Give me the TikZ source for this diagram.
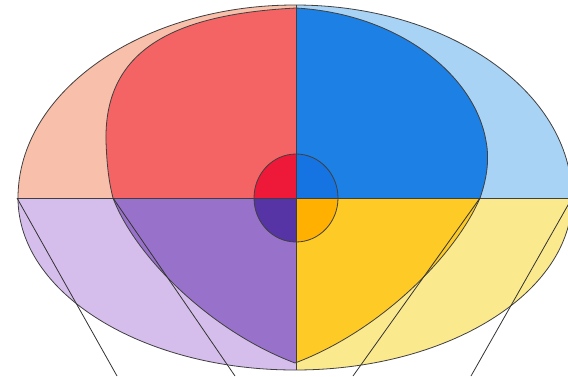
\documentclass[tikz,border=0pt]{standalone}
\usepackage{xcolor}
\usepackage{tikz}
\definecolor{outerTL}{HTML}{F8BFAA}
\definecolor{innerTL}{HTML}{F46464}
\definecolor{coreTL}{HTML}{EE1838}
\definecolor{outerTR}{HTML}{A8D3F5}
\definecolor{innerTR}{HTML}{1C80E4}
\definecolor{coreTR}{HTML}{1673E2}
\definecolor{outerBL}{HTML}{D6BEEC}
\definecolor{innerBL}{HTML}{9872CA}
\definecolor{coreBL}{HTML}{5634A6}
\definecolor{outerBR}{HTML}{FBE98E}
\definecolor{innerBR}{HTML}{FDCA26}
\definecolor{coreBR}{HTML}{FFB000}
\tikzset{
  rim/.style={draw=black!75, line width=0.8pt},
  ray/.style={draw=black!80, line width=0.8pt},
}
% outer egg, inner drop and core, all round the centre (295,178)
\newcommand{\outerpath}{(572,178) arc[start angle=0, end angle=180, x radius=277, y radius=193]
  arc[start angle=180, end angle=360, x radius=277, y radius=172] -- cycle}
\newcommand{\innerpath}{(296,368) .. controls (180,362) and (104,330) .. (106,235)
  .. controls (107,205) and (110,190) .. (113,178)
  .. controls (135,120) and (210,45) .. (295,13)
  .. controls (380,45) and (455,120) .. (480,178)
  .. controls (486,195) and (490,215) .. (486,235)
  .. controls (475,300) and (400,362) .. (296,368) -- cycle}
\newcommand{\corepath}{(296,178) ellipse[x radius=42, y radius=44]}
\begin{document}
\begin{tikzpicture}[x=1pt, y=1pt]
  \useasboundingbox (0,0) rectangle (568,376);
  \clip (0,0) rectangle (568,376);
  % quadrants
  \foreach \qx/\qy/\qh/\q in {0/178/198/TL, 296/178/198/TR, 0/0/178/BL, 296/0/178/BR} {
    \begin{scope}
      \clip (\qx,\qy) rectangle ++(296,\qh);
      \fill[outer\q] \outerpath;
      \fill[inner\q] \innerpath;
      \fill[core\q] \corepath;
    \end{scope}
  }
  % outlines
  \draw[rim] \outerpath;
  \draw[rim] \innerpath;
  \draw[rim] \corepath;
  \coordinate (top) at (296,371);
  \coordinate (bot) at (296,6);
  \coordinate (west) at (17,178);
  \coordinate (east) at (572,178);
  \draw[rim] (top) -- (bot);
  \draw[rim] (west) -- (east);
  % rays below the axis
  \coordinate (a1) at (17,178);   \coordinate (b1) at (117,0);
  \coordinate (a2) at (113,178);  \coordinate (b2) at (235,0);
  \coordinate (a3) at (480,178);  \coordinate (b3) at (353,0);
  \coordinate (a4) at (572,178);  \coordinate (b4) at (471,0);
  \foreach \i in {1,...,4} \draw[ray] (a\i) -- (b\i);
\end{tikzpicture}
\end{document}
